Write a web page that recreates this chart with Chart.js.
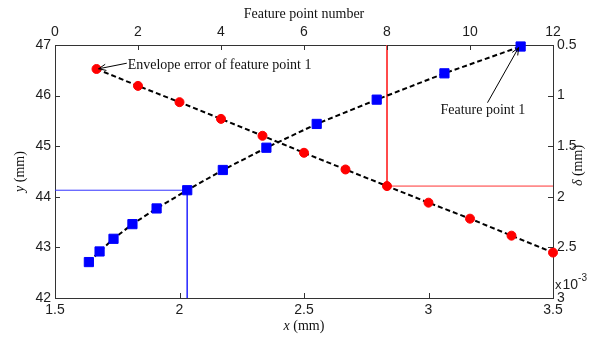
<!DOCTYPE html>
<html><head><meta charset="utf-8">
<script src="https://cdn.jsdelivr.net/npm/chart.js@4/dist/chart.umd.min.js"></script>
<style>html,body{margin:0;padding:0;background:#fff}#wrap{width:594px;height:341px}</style>
</head><body><div id="wrap"><canvas id="c" width="594" height="341"></canvas></div>
<script>
// Feature points (bottom / left axes): x (mm), y (mm)
const xPos = [1.636, 1.679, 1.735, 1.811, 1.908, 2.031, 2.174, 2.349, 2.551, 2.792, 3.064, 3.370];
const yPos = [42.71, 42.92, 43.17, 43.46, 43.77, 44.13, 44.53, 44.97, 45.44, 45.92, 46.44, 46.97];
// Envelope error (top / right axes): feature number, delta (x10^-3 mm)
const featureNumbers = [1, 2, 3, 4, 5, 6, 7, 8, 9, 10, 11, 12];
const envelopeError = [0.737, 0.904, 1.065, 1.230, 1.397, 1.565, 1.730, 1.894, 2.058, 2.216, 2.384, 2.551];
// Guide lines
const blueGuideX = [1.5, 2.031, 2.031];
const blueGuideY = [44.13, 44.13, 42];
const redGuideX = [8, 8, 12];
const redGuideY = [0.5, 1.894, 1.894];
// Axis tick settings
const xTicks = {min: 1.5, max: 3.5, step: 0.5};
const x2Ticks = {min: 0, max: 12, step: 2};
const yTicks = {min: 42, max: 47, step: 1};
const y2Ticks = {min: 0.5, max: 3, step: 0.5};

const tickFont = {family: 'Liberation Sans', size: 14};
const tickColor = '#1e1e1e';
const axisColor = '#333';

function pts(xs, ys) { return xs.map((x, i) => ({x: x, y: ys[i]})); }

function axis(pos, t, size, extra) {
  return Object.assign({
    type: 'linear', position: pos, min: t.min, max: t.max,
    ticks: {stepSize: t.step, font: tickFont, color: tickColor, autoSkip: false, maxRotation: 0, padding: 4,
            callback: (v) => String(Math.round(v * 100) / 100)},
    grid: {drawOnChartArea: false, drawTicks: false},
    border: {display: true, color: axisColor, width: 1},
    afterFit: (s) => { if (pos === 'left' || pos === 'right') s.width = size; else s.height = size; }
  }, extra || {});
}

const notes = [
  {text: 'Envelope error of feature point 1', xa: 'x2', ya: 'y2', tx: 1.75, ty: 0.697, from: [1.73, 0.68], to: [1.05, 0.735]},
  {text: 'Feature point 1', xa: 'x', ya: 'y', tx: 3.048, ty: 45.70, from: [3.237, 45.86], to: [3.362, 46.95]}
];

function arrow(ctx, x1, y1, x2, y2) {
  ctx.beginPath(); ctx.moveTo(x1, y1); ctx.lineTo(x2, y2); ctx.stroke();
  const a = Math.atan2(y2 - y1, x2 - x1), L = 8;
  ctx.beginPath();
  ctx.moveTo(x2 - L * Math.cos(a - 0.4), y2 - L * Math.sin(a - 0.4));
  ctx.lineTo(x2, y2);
  ctx.lineTo(x2 - L * Math.cos(a + 0.4), y2 - L * Math.sin(a + 0.4));
  ctx.stroke();
}

function mixed(ctx, parts, cx, cy) {
  let w = 0;
  parts.forEach(p => { ctx.font = p[1]; w += ctx.measureText(p[0]).width; });
  let x = cx - w / 2;
  ctx.textAlign = 'left'; ctx.textBaseline = 'middle';
  parts.forEach(p => { ctx.font = p[1]; ctx.fillText(p[0], x, cy); x += ctx.measureText(p[0]).width; });
}

const decor = {
  id: 'decor',
  afterDraw(chart) {
    const ctx = chart.ctx, a = chart.chartArea, S = chart.scales;
    ctx.save();
    // inward ticks
    ctx.strokeStyle = axisColor; ctx.lineWidth = 1;
    const T = 5;
    S.x.ticks.forEach(t => { const p = Math.round(S.x.getPixelForValue(t.value)) + 0.5; ctx.beginPath(); ctx.moveTo(p, a.bottom); ctx.lineTo(p, a.bottom - T); ctx.stroke(); });
    S.x2.ticks.forEach(t => { const p = Math.round(S.x2.getPixelForValue(t.value)) + 0.5; ctx.beginPath(); ctx.moveTo(p, a.top); ctx.lineTo(p, a.top + T); ctx.stroke(); });
    S.y.ticks.forEach(t => { const p = Math.round(S.y.getPixelForValue(t.value)) + 0.5; ctx.beginPath(); ctx.moveTo(a.left, p); ctx.lineTo(a.left + T, p); ctx.stroke(); });
    S.y2.ticks.forEach(t => { const p = Math.round(S.y2.getPixelForValue(t.value)) + 0.5; ctx.beginPath(); ctx.moveTo(a.right, p); ctx.lineTo(a.right - T, p); ctx.stroke(); });
    // titles
    ctx.fillStyle = '#111';
    const cx = (a.left + a.right) / 2, cy = (a.top + a.bottom) / 2;
    ctx.font = '14px "Liberation Serif"'; ctx.textAlign = 'center'; ctx.textBaseline = 'middle';
    ctx.fillText('Feature point number', cx, 14);
    mixed(ctx, [['x', 'italic 14px "Liberation Serif"'], [' (mm)', '14px "Liberation Serif"']], cx, 326);
    ctx.save(); ctx.translate(20, cy); ctx.rotate(-Math.PI / 2);
    mixed(ctx, [['y', 'italic 14px "Liberation Serif"'], [' (mm)', '14px "Liberation Serif"']], 0, 0);
    ctx.restore();
    ctx.save(); ctx.translate(578, cy - 6); ctx.rotate(-Math.PI / 2);
    mixed(ctx, [['δ', 'italic 14px "Liberation Serif"'], [' (mm)', '14px "Liberation Serif"']], 0, 0);
    ctx.restore();
    // x10^-3 exponent
    ctx.fillStyle = tickColor; ctx.textAlign = 'left'; ctx.textBaseline = 'alphabetic';
    ctx.font = '13px "Liberation Sans"';
    ctx.fillText('x', a.right + 2, 289);
    let xx = a.right + 2 + ctx.measureText('x').width + 1;
    ctx.font = '14px "Liberation Sans"'; ctx.fillText('10', xx, 289);
    xx += ctx.measureText('10').width;
    ctx.font = '10px "Liberation Sans"'; ctx.fillText('-3', xx, 281);
    // annotations
    ctx.strokeStyle = '#000'; ctx.lineWidth = 1; ctx.fillStyle = '#111';
    notes.forEach(n => {
      const X = S[n.xa], Y = S[n.ya];
      ctx.font = '14px "Liberation Serif"'; ctx.textAlign = 'left'; ctx.textBaseline = 'middle';
      ctx.fillText(n.text, X.getPixelForValue(n.tx), Y.getPixelForValue(n.ty));
      arrow(ctx, X.getPixelForValue(n.from[0]), Y.getPixelForValue(n.from[1]), X.getPixelForValue(n.to[0]), Y.getPixelForValue(n.to[1]));
    });
    ctx.restore();
  }
};

new Chart(document.getElementById('c'), {
  type: 'scatter',
  data: {
    datasets: [
      {label: 'Feature points', data: pts(xPos, yPos), xAxisID: 'x', yAxisID: 'y', showLine: true,
       borderColor: '#000', borderWidth: 2, borderDash: [5, 3], pointStyle: 'rect', pointRadius: 6.5,
       pointBackgroundColor: '#0000ff', pointBorderColor: '#0000ff', pointBorderWidth: 1, clip: false},
      {label: 'Envelope error', data: pts(featureNumbers, envelopeError), xAxisID: 'x2', yAxisID: 'y2', showLine: true,
       borderColor: '#000', borderWidth: 2, borderDash: [5, 3], pointStyle: 'circle', pointRadius: 4.5,
       pointBackgroundColor: '#ff0000', pointBorderColor: '#ff0000', pointBorderWidth: 1, clip: false},
      {label: 'blue guide', data: pts(blueGuideX, blueGuideY), xAxisID: 'x', yAxisID: 'y', showLine: true,
       borderColor: '#3333ff', borderWidth: 1, pointRadius: 0},
      {label: 'red guide', data: pts(redGuideX, redGuideY), xAxisID: 'x2', yAxisID: 'y2', showLine: true,
       borderColor: '#ff3333', borderWidth: 1, pointRadius: 0}
    ]
  },
  options: {
    responsive: false, animation: false, devicePixelRatio: 1,
    layout: {padding: 0},
    plugins: {legend: {display: false}, tooltip: {enabled: false}},
    scales: {
      x: axis('bottom', xTicks, 43),
      x2: axis('top', x2Ticks, 45),
      y: axis('left', yTicks, 55),
      y2: axis('right', y2Ticks, 41, {reverse: true})
    }
  },
  plugins: [decor]
});
</script>
</body></html>
